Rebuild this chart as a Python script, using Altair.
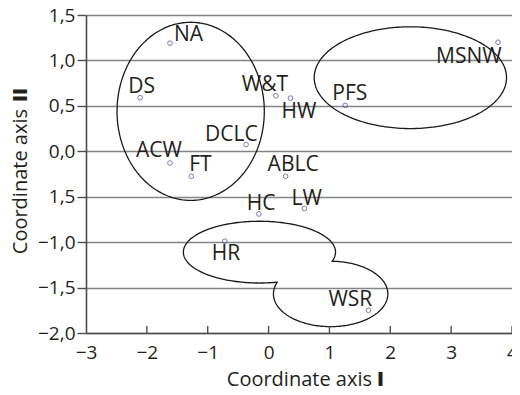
import altair as alt
import pandas as pd
import numpy as np

# ---- data ----
names = ["NA", "DS", "W&T", "HW", "DCLC", "ACW", "FT", "ABLC", "PFS", "HC", "LW", "HR", "WSR", "MSNW"]
coord_1 = [-1.62, -2.11, 0.12, 0.36, -0.37, -1.62, -1.27, 0.28, 1.26, -0.16, 0.59, -0.72, 1.64, 3.77]
coord_2 = [1.19, 0.59, 0.61, 0.585, 0.074, -0.13, -0.275, -0.275, 0.505, -0.69, -0.63, -0.99, -1.75, 1.20]

x_ticks = [-3, -2, -1, 0, 1, 2, 3, 4]
x_tick_labels = ["−3", "−2", "−1", "0", "1", "2", "3", "4"]
y_ticks = [-2.0, -1.5, -1.0, -0.5, 0.0, 0.5, 1.0, 1.5]
y_tick_labels = ["−2,0", "−1,5", "−1,0", "1,5", "0,0", "0,5", "1,0", "1,5"]

x_title, x_title_num = "Coordinate axis", "I"
y_title, y_title_num = "Coordinate axis", "II"

# group outlines: (name, centre x, centre y, radius x, radius y)
cluster_left = ("left", -1.28, 0.44, 1.21, 0.98)
cluster_right = ("right", 2.33, 0.81, 1.58, 0.56)
lobe_upper = ("upper", -0.15, -1.11, 1.25, 0.34)
lobe_lower = ("lower", 1.02, -1.57, 0.94, 0.36)

# ---- styling: label offsets in pixels ----
label_dx = [4, -12, -34, -9, -41, -34, -2, -18, -13, -12, -13, -13, -40, -62]
label_dy = [-2, -5, -5, 20, -4, -6, -5, -5, -5, -4, -4, 19, -4, 21]

W, H = 426, 318
FONT = "Open Sans"
TXT = "#231f20"
X0, X1, Y0, Y1 = -3, 4, -2, 1.5

pts = pd.DataFrame({"c1": coord_1, "c2": coord_2, "name": names,
                    "dx": label_dx, "dy": label_dy})


def ellipse_pts(cx, cy, rx, ry, n=240):
    t = np.linspace(0, 2 * np.pi, n, endpoint=False)
    return cx + rx * np.cos(t), cy + ry * np.sin(t)


def outside(x, y, e):
    _, cx, cy, rx, ry = e
    return ((x - cx) / rx) ** 2 + ((y - cy) / ry) ** 2 > 1


def arc_outside(e, other):
    x, y = ellipse_pts(*e[1:])
    m = outside(x, y, other)
    i = [k for k in range(len(m)) if m[k] and not m[k - 1]][0]
    x, y, m = np.roll(x, -i), np.roll(y, -i), np.roll(m, -i)
    return x[m], y[m]


rows = []
for e in (cluster_left, cluster_right):
    x, y = ellipse_pts(*e[1:])
    x = np.append(x, x[0]); y = np.append(y, y[0])
    for k in range(len(x)):
        rows.append({"shape": e[0], "i": k, "x": x[k], "y": y[k]})
ax, ay = arc_outside(lobe_upper, lobe_lower)
bx, by = arc_outside(lobe_lower, lobe_upper)
ux = np.concatenate([ax, bx, ax[:1]]); uy = np.concatenate([ay, by, ay[:1]])
for k in range(len(ux)):
    rows.append({"shape": "peanut", "i": k, "x": ux[k], "y": uy[k]})
outl = pd.DataFrame(rows)

xscale = alt.Scale(domain=[X0, X1], nice=False, zero=False)
yscale = alt.Scale(domain=[Y0, Y1], nice=False, zero=False)

xlab_expr = "[" + ",".join("'%s'" % s for s in x_tick_labels) + "][round(datum.value + 3)]"
ylab_expr = "[" + ",".join("'%s'" % s for s in y_tick_labels) + "][round((datum.value + 2) * 2)]"

xaxis = alt.Axis(values=x_ticks, labelExpr=xlab_expr, grid=False, ticks=False, tickSize=0,
                 labelFlush=False, labelOverlap=False,
                 labelPadding=10, labelFontSize=19, labelFont=FONT, labelColor=TXT,
                 title=None, domainColor="#4d4d4d", domainWidth=1.6)
yaxis = alt.Axis(values=y_ticks, labelExpr=ylab_expr, grid=True, gridColor="#858585",
                 labelFlush=False, labelOverlap=False,
                 gridWidth=1.4, tickSize=9, tickColor="#4d4d4d", tickWidth=1.4,
                 labelPadding=2, labelFontSize=19, labelFont=FONT, labelColor=TXT,
                 title=None, domainColor="#4d4d4d", domainWidth=1.6)

lines = alt.Chart(outl).mark_line(color="#1a1a1a", strokeWidth=1.3).encode(
    x=alt.X("x:Q", scale=xscale, axis=xaxis),
    y=alt.Y("y:Q", scale=yscale, axis=yaxis),
    detail="shape:N",
    order="i:Q",
)

xt = pd.DataFrame({"v": x_ticks[1:]})
xticks = alt.Chart(xt).mark_rule(color="#4d4d4d", strokeWidth=1.4).encode(
    x=alt.X("v:Q", scale=xscale),
    y=alt.value(H),
    y2=alt.value(H - 7),
)

points = alt.Chart(pts).mark_point(shape="circle", filled=False, color="#4a40a0",
                                   size=22, strokeWidth=1).encode(
    x=alt.X("c1:Q", scale=xscale),
    y=alt.Y("c2:Q", scale=yscale),
)

labels = alt.Chart(pts).transform_calculate(
    lx="datum.c1 + datum.dx * %f" % ((X1 - X0) / W),
    ly="datum.c2 - datum.dy * %f" % ((Y1 - Y0) / H),
).mark_text(align="left", baseline="alphabetic", font=FONT,
            fontSize=21, color=TXT).encode(
    x=alt.X("lx:Q", scale=xscale),
    y=alt.Y("ly:Q", scale=yscale),
    text="name:N",
)

# axis titles (normal text + bold numeral)
tdf = pd.DataFrame({"t": [x_title]})
xt1 = alt.Chart(tdf).mark_text(align="right", baseline="alphabetic", font=FONT, fontSize=20,
                               color=TXT).encode(
    x=alt.value(286), y=alt.value(H + 53), text="t:N")
xt2 = alt.Chart(pd.DataFrame({"t": [x_title_num]})).mark_text(
    align="left", baseline="alphabetic", font=FONT, fontSize=20, fontWeight=800,
    color=TXT).encode(x=alt.value(291), y=alt.value(H + 53), text="t:N")
yt1 = alt.Chart(pd.DataFrame({"t": [y_title]})).mark_text(
    align="right", baseline="alphabetic", font=FONT, fontSize=20, angle=270,
    color=TXT).encode(x=alt.value(-59), y=alt.value(94), text="t:N")
yt2 = alt.Chart(pd.DataFrame({"t": [y_title_num]})).mark_text(
    align="left", baseline="alphabetic", font=FONT, fontSize=20, fontWeight=800, angle=270,
    color=TXT).encode(x=alt.value(-59), y=alt.value(87), text="t:N")

chart = alt.layer(lines, xticks, points, labels, xt1, xt2, yt1, yt2).properties(
    width=W, height=H,
    autosize=alt.AutoSizeParams(type="none"),
    padding={"left": 78, "top": 7, "right": 0, "bottom": 54},
).configure_view(stroke=None)

chart.save("out.html", embed_options={"renderer": "svg", "actions": False})
